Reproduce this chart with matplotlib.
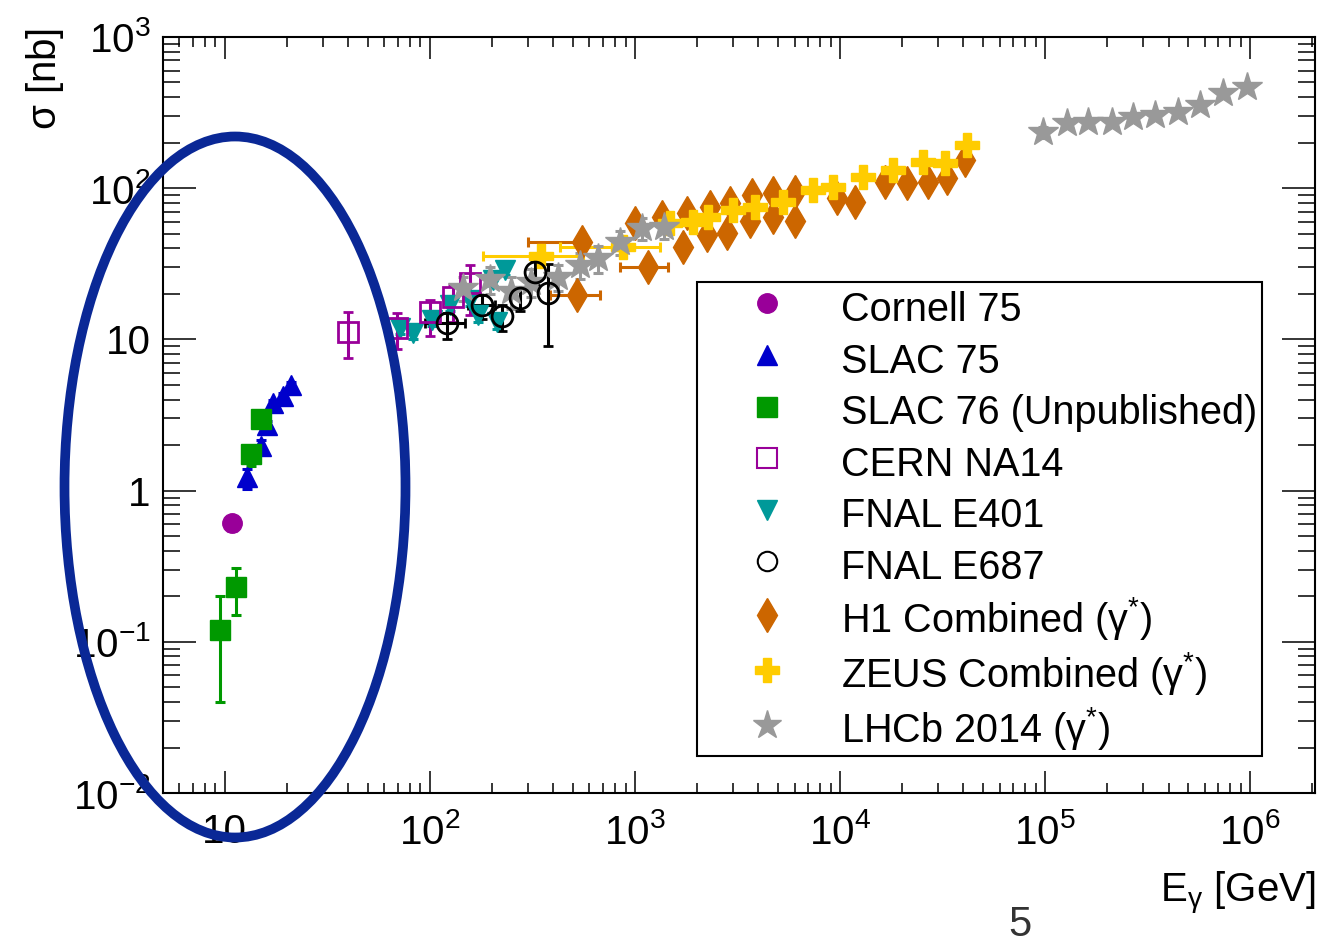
import numpy as np
import matplotlib
matplotlib.use("Agg")
import matplotlib.pyplot as plt
from matplotlib.lines import Line2D
from matplotlib.patches import Ellipse
from matplotlib.ticker import LogLocator, FuncFormatter, NullFormatter

plt.rcParams['font.family'] = ['Liberation Sans', 'DejaVu Sans']
plt.rcParams['mathtext.fontset'] = 'custom'
plt.rcParams['mathtext.rm'] = 'Liberation Sans'
plt.rcParams['mathtext.it'] = 'Liberation Sans:italic'
plt.rcParams['mathtext.default'] = 'regular'

# --- data (E_gamma [GeV], sigma [nb]) ---
cornell_E = [10.9]
cornell_s = [0.61]
cornell_lo = [0.07]
cornell_hi = [0.05]

slac75_E = [12.9, 15.0, 16.0, 17.1, 19.2, 21.0]
slac75_s = [1.23, 1.97, 2.7, 3.8, 4.2, 5.0]
slac75_lo = [0.2, 0.2, 0.2, 0.2, 0.2, 0.2]
slac75_hi = [0.15, 0.2, 0.2, 0.2, 0.2, 0.2]

slac76_E = [9.5, 11.4, 13.4, 15.0]
slac76_s = [0.12, 0.23, 1.75, 2.98]
slac76_lo = [0.08, 0.08, 0.3, 0.3]
slac76_hi = [0.08, 0.08, 0.2, 0.3]

na14_E = [39.8, 69.0, 100, 129, 157]
na14_s = [11.2, 11.9, 15.2, 19.0, 23.6]
na14_lo = [3.7, 3.2, 4.6, 6.0, 9.0]
na14_hi = [4.0, 3.0, 3.0, 4.0, 7.5]

e401_E = [71.4, 82.6, 102, 125, 157, 171, 203, 212, 232]
e401_s = [11.9, 11.0, 13.4, 16.9, 18.2, 14.5, 24.7, 13.0, 28.8]
e401_err = [1.0, 1.0, 1.2, 1.5, 1.6, 1.4, 2.0, 1.3, 2.2]

e687_E = [121, 180, 224, 275, 325, 377]
e687_s = [12.8, 16.9, 14.3, 18.8, 27.9, 20.3]
e687_lo = [2.7, 3.2, 3.0, 3.3, 4.9, 11.3]
e687_hi = [2.2, 2.9, 2.7, 3.2, 5.1, 11.3]
e687_xlo = [26, 27, 0, 0, 0, 0]
e687_xhi = [27, 27, 0, 0, 0, 0]

h1_E = [521, 551, 1000, 1156, 1350, 1714, 1795, 2245, 2323, 2812, 2906, 3637, 3724,
        4713, 4713, 6030, 6030, 9660, 11830, 16600, 21200, 26900, 33300, 40700]
h1_s = [19.7, 44, 59, 30.1, 64.5, 40.8, 68.6, 49, 75, 50.6, 79.8, 61, 90,
        93, 64.6, 94, 61, 86, 81, 110, 108, 110, 117, 153]
h1_xlo = [136, 250, 0, 313, 0, 0, 0, 0, 0, 0, 0, 0, 0,
          0, 0, 0, 0, 0, 0, 0, 0, 0, 0, 0]
h1_xhi = [153, 0, 0, 294, 0, 0, 0, 0, 0, 0, 0, 0, 0,
          0, 0, 0, 0, 0, 0, 0, 0, 0, 0, 0]

zeus_E = [350, 870, 1480, 1920, 2270, 3000, 3850, 5270, 7390, 9250,
          12940, 18100, 25400, 32500, 41700]
zeus_s = [35.5, 41, 59, 60, 64.5, 72, 75, 81, 97, 102,
          118, 132, 149, 147, 193]
zeus_xlo = [169, 440, 0, 0, 0, 0, 0, 0, 0, 0, 0, 0, 0, 0, 0]
zeus_xhi = [210, 460, 0, 0, 0, 0, 0, 0, 0, 0, 0, 0, 0, 0, 0]

lhcb_E = [145, 196, 250, 310, 420, 540, 660, 845, 1080, 1390,
          97900, 128000, 162000, 212000, 269000, 344000, 446000, 571000, 738000, 966000]
lhcb_s = [22, 25, 21, 24, 26, 31, 34.5, 44, 54.6, 55,
          235, 270, 274, 274, 296, 305, 319, 355, 427, 467]
lhcb_err = [4, 5, 5, 5, 5, 6, 7, 8, 9, 9,
            20, 0, 0, 0, 0, 0, 0, 0, 0, 20]

fig = plt.figure(figsize=(13.18, 9.43), dpi=100)
ax = fig.add_axes([0.1237, 0.159, 0.8740, 0.8018])

ekw = dict(elinewidth=2.2, capsize=3.5, capthick=2.2, linestyle='none')

ax.errorbar(e401_E, e401_s, yerr=e401_err, fmt='v', color='#009999', ms=15, **ekw)
ax.errorbar(na14_E, na14_s, yerr=[na14_lo, na14_hi], fmt='s', color='#990099',
            mfc='none', mew=2, ms=15, **ekw)
ax.errorbar(h1_E, h1_s, xerr=[h1_xlo, h1_xhi], fmt='d', color='#cc6600', ms=17, **ekw)
ax.errorbar(zeus_E, zeus_s, xerr=[zeus_xlo, zeus_xhi], fmt='P', color='#ffcc00', ms=17, **ekw)
ax.errorbar(lhcb_E, lhcb_s, yerr=lhcb_err, fmt='*', color='#999999', ms=22, **ekw)
ax.errorbar(e687_E, e687_s, yerr=[e687_lo, e687_hi], xerr=[e687_xlo, e687_xhi], fmt='o',
            color='black', mfc='none', mew=2, ms=15, **ekw)
ax.errorbar(slac75_E, slac75_s, yerr=[slac75_lo, slac75_hi], fmt='^', color='#0000cc', ms=14, **ekw)
ax.errorbar(cornell_E, cornell_s, yerr=[cornell_lo, cornell_hi], fmt='o', color='#990099', ms=14, **ekw)
ax.errorbar(slac76_E, slac76_s, yerr=[slac76_lo, slac76_hi], fmt='s', color='#009900', ms=14, **ekw)

ax.set_xscale('log')
ax.set_yscale('log')
ax.set_xlim(5, 2.07e6)
ax.set_ylim(1e-2, 1e3)


def fmt_tick(v, pos):
    e = int(round(np.log10(v)))
    if e == 0:
        return '1'
    if e == 1:
        return '10'
    return r'$10^{%d}$' % e


for a in (ax.xaxis, ax.yaxis):
    a.set_major_locator(LogLocator(base=10, numticks=20))
    a.set_minor_locator(LogLocator(base=10, subs=np.arange(2, 10), numticks=100))
    a.set_major_formatter(FuncFormatter(fmt_tick))
    a.set_minor_formatter(NullFormatter())

ax.tick_params(which='both', direction='in', top=True, right=True, width=1.1,
               labelsize=29)
ax.tick_params(axis='y', which='major', length=24, pad=9)
ax.tick_params(axis='y', which='minor', length=12)
ax.tick_params(axis='x', which='major', length=16, pad=14)
ax.tick_params(axis='x', which='minor', length=7.5)
for sp in ax.spines.values():
    sp.set_linewidth(1.5)

fig.text(45 / 1318, 1 - 28 / 943, r'$\sigma$ [nb]', rotation=90, ha='center', va='top',
         fontsize=29)
fig.text(1316 / 1318, 1 - 893 / 943, r'E$_{\gamma}$ [GeV]', ha='right', va='center',
         fontsize=29)

handles = [
    Line2D([], [], marker='o', ls='none', color='#990099', ms=14),
    Line2D([], [], marker='^', ls='none', color='#0000cc', ms=14),
    Line2D([], [], marker='s', ls='none', color='#009900', ms=14),
    Line2D([], [], marker='s', ls='none', color='#990099', mfc='none', mew=1.5, ms=14),
    Line2D([], [], marker='v', ls='none', color='#009999', ms=14),
    Line2D([], [], marker='o', ls='none', color='black', mfc='none', mew=1.5, ms=14),
    Line2D([], [], marker='d', ls='none', color='#cc6600', ms=17),
    Line2D([], [], marker='P', ls='none', color='#ffcc00', ms=17),
    Line2D([], [], marker='*', ls='none', color='#999999', ms=21),
]
labels = ['Cornell 75', 'SLAC 75', 'SLAC 76 (Unpublished)', 'CERN NA14', 'FNAL E401',
          'FNAL E687', r'H1 Combined ($\gamma^{*}$)', r'ZEUS Combined ($\gamma^{*}$)',
          r'LHCb 2014 ($\gamma^{*}$)']
leg = ax.legend(handles, labels, loc='upper left', bbox_to_anchor=(0.4635, 0.676),
                fontsize=28.5, frameon=True, fancybox=False, framealpha=1,
                edgecolor='black', borderpad=0.1, labelspacing=0.2,
                handleheight=1.32, handlelength=3.35, handletextpad=0.2,
                borderaxespad=0)
leg.get_frame().set_linewidth(1.5)

# hand-drawn style annotation ellipse
ell = Ellipse((235 / 1318, 1 - 487 / 943), 341 / 1318, 701 / 943,
              transform=fig.transFigure, fill=False, edgecolor='#0a2896',
              linewidth=7, zorder=10)
fig.add_artist(ell)

fig.text(1020 / 1318, 1 - 925 / 943, '5', ha='center', va='center', fontsize=30,
         color='#333333')

fig.savefig('out.png', dpi=100)
